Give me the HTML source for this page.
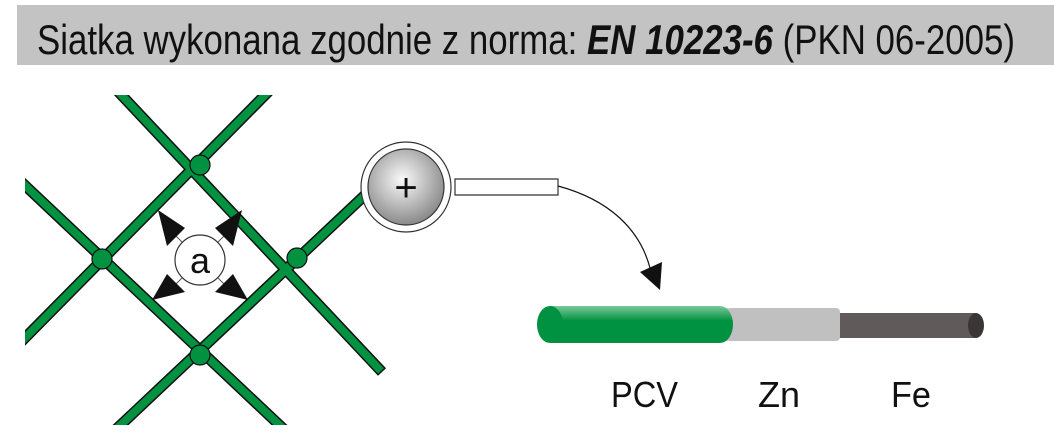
<!DOCTYPE html>
<html><head><meta charset="utf-8"><style>html,body{margin:0;padding:0;background:#fff}svg{display:block}</style></head>
<body>
<svg width="1054" height="447" viewBox="0 0 1054 447" xmlns="http://www.w3.org/2000/svg">
<defs>
<radialGradient id="g" cx="0.45" cy="0.4" r="0.6"><stop offset="0" stop-color="#fafafa"/><stop offset="1" stop-color="#8a8a8a"/></radialGradient>
<linearGradient id="gr" x1="0" y1="0" x2="0" y2="1"><stop offset="0" stop-color="#7cc79a"/><stop offset="0.4" stop-color="#009240"/><stop offset="1" stop-color="#009240"/></linearGradient>
<clipPath id="c"><rect x="25" y="95" width="500" height="330"/></clipPath>
</defs>
<rect x="17" y="5" width="1037" height="60" fill="#c3c3c3"/>
<text x="37" y="54" font-family="Liberation Sans, sans-serif" font-size="42" fill="#111" textLength="978" lengthAdjust="spacingAndGlyphs">Siatka wykonana zgodnie z norma:  <tspan font-weight="bold" font-style="italic">EN 10223-6</tspan>  (PKN 06-2005)</text>
<g clip-path="url(#c)">
<g stroke="#111" stroke-width="11" stroke-linecap="butt">
<line x1="112" y1="85" x2="382" y2="372"/>
<line x1="15" y1="176" x2="290" y2="435"/>
<line x1="15" y1="348" x2="275" y2="85"/>
<line x1="110" y1="435" x2="365" y2="195"/>
</g>
<g stroke="#009240" stroke-width="8" stroke-linecap="butt">
<line x1="112" y1="85" x2="381" y2="371"/>
<line x1="15" y1="176" x2="290" y2="435"/>
<line x1="15" y1="348" x2="275" y2="85"/>
<line x1="110" y1="435" x2="364" y2="196"/>
</g>
</g>
<g fill="#009240" stroke="#111" stroke-width="1.2">
<ellipse cx="200" cy="165" rx="10" ry="10"/>
<ellipse cx="102" cy="259" rx="10" ry="10"/>
<ellipse cx="297" cy="258" rx="10" ry="10"/>
<ellipse cx="200" cy="355" rx="10" ry="10"/>
</g>
<path d="M455 179 L558 179 L558 195 L455 195 Z" fill="#fff" stroke="#333" stroke-width="1.2"/>
<circle cx="406" cy="187" r="45" fill="#fff" stroke="#333" stroke-width="1.2"/>
<circle cx="406" cy="187" r="38" fill="url(#g)" stroke="#333" stroke-width="1.2"/>
<text x="406" y="201" text-anchor="middle" font-family="Liberation Sans, sans-serif" font-size="40" fill="#111">+</text>
<path d="M558 186 C610 200 640 230 650 268" fill="none" stroke="#111" stroke-width="1.2"/>
<polygon points="660,290 640,272 662,262" fill="#111"/>
<g stroke="#555" stroke-width="1"><line x1="175" y1="235" x2="225" y2="285"/><line x1="225" y1="235" x2="175" y2="285"/></g>
<circle cx="200" cy="260" r="25" fill="#fff" stroke="#333" stroke-width="1.2"/>
<text x="200" y="273" text-anchor="middle" font-family="Liberation Sans, sans-serif" font-size="36" fill="#111" textLength="20" lengthAdjust="spacingAndGlyphs">a</text>
<g fill="#111">
<polygon points="158,210 185,228 167,246"/>
<polygon points="242,210 233,246 215,228"/>
<polygon points="152,300 167,274 185,292"/>
<polygon points="248,300 215,292 233,274"/>
</g>
<rect x="840" y="313" width="136" height="25" fill="#605a5a"/>
<ellipse cx="840" cy="325.5" rx="8" ry="12.5" fill="#605a5a"/>
<ellipse cx="976" cy="325.5" rx="8" ry="12.5" fill="#3a3636"/>
<rect x="727" y="308" width="113" height="33" rx="4" fill="#c0c0c0"/>
<ellipse cx="727" cy="324.5" rx="12" ry="16.5" fill="#c0c0c0"/>
<rect x="550" y="306" width="170" height="37" fill="url(#gr)"/>
<ellipse cx="550" cy="324.5" rx="13" ry="18.5" fill="#009240"/>
<ellipse cx="720" cy="324.5" rx="13" ry="18.5" fill="url(#gr)"/>
<g font-family="Liberation Sans, sans-serif" font-size="36" fill="#111">
<text x="611" y="407" textLength="67" lengthAdjust="spacingAndGlyphs">PCV</text>
<text x="758" y="407" textLength="42" lengthAdjust="spacingAndGlyphs">Zn</text>
<text x="891" y="407" textLength="40" lengthAdjust="spacingAndGlyphs">Fe</text>
</g>
</svg>
</body></html>
